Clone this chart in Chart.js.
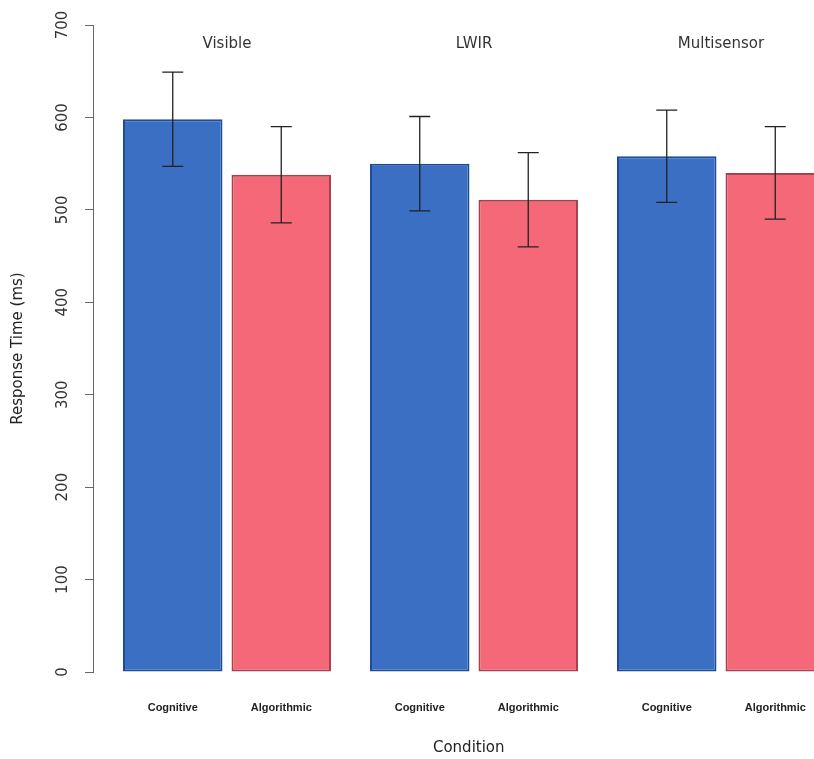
<!DOCTYPE html>
<html lang="en">
<head>
    <meta charset="UTF-8">
    <title>Response Time by Condition</title>
    <script src="https://cdn.jsdelivr.net/npm/chart.js"></script>
    <style>
        html, body {
            margin: 0;
            padding: 0;
            background: #fff;
            overflow: hidden;
        }
        #wrap {
            width: 860px;
            height: 759px;
        }
    </style>
</head>
<body>
    <div id="wrap"><canvas id="rtChart"></canvas></div>

    <script>
        // values (ms)
        const groups = ['Visible', 'LWIR', 'Multisensor'];
        const methods = ['Cognitive', 'Algorithmic'];
        const cognitiveMeans = [598, 550, 558];
        const cognitiveErr = [51, 51, 50];
        const algorithmicMeans = [538, 511, 540];
        const algorithmicErr = [52, 51, 50];
        const yTicks = [0, 100, 200, 300, 400, 500, 600, 700];

        const means = [cognitiveMeans, algorithmicMeans];
        const errors = [cognitiveErr, algorithmicErr];
        const FONT = '"DejaVu Sans", Verdana, sans-serif';

        // group titles, method labels under each bar, and the error bars
        const extras = {
            id: 'extras',
            afterDatasetsDraw(chart) {
                const c = chart.ctx;
                const x = chart.scales.x;
                const y = chart.scales.y;
                c.save();

                chart.data.datasets.forEach((ds, di) => {
                    const meta = chart.getDatasetMeta(di);
                    meta.data.forEach((bar, i) => {
                        const v = means[di][i];
                        const e = errors[di][i];
                        const top = y.getPixelForValue(v + e);
                        const bot = y.getPixelForValue(v - e);
                        c.strokeStyle = '#222';
                        c.lineWidth = 1.3;
                        c.beginPath();
                        c.moveTo(bar.x, top);
                        c.lineTo(bar.x, bot);
                        c.moveTo(bar.x - 10.5, top);
                        c.lineTo(bar.x + 10.5, top);
                        c.moveTo(bar.x - 10.5, bot);
                        c.lineTo(bar.x + 10.5, bot);
                        c.stroke();

                        c.fillStyle = '#222';
                        c.font = 'bold 11px "Liberation Sans", Arial, sans-serif';
                        c.textAlign = 'center';
                        c.textBaseline = 'middle';
                        c.fillText(methods[di], bar.x, 708);
                    });
                });

                c.fillStyle = '#333';
                c.font = '15px ' + FONT;
                c.textAlign = 'center';
                c.textBaseline = 'middle';
                groups.forEach((g, i) => {
                    c.fillText(g, x.getPixelForValue(i), 44);
                });
                c.restore();
            }
        };

        const ctx = document.getElementById('rtChart').getContext('2d');
        new Chart(ctx, {
            type: 'bar',
            data: {
                datasets: [{
                    label: methods[0],
                    data: cognitiveMeans.map((v, i) => ({ x: i, y: v })),
                    backgroundColor: '#3a6fc4',
                    borderColor: '#1f4c96',
                    borderWidth: 2,
                    borderSkipped: false,
                    categoryPercentage: 0.8785,
                    barPercentage: 0.917
                }, {
                    label: methods[1],
                    data: algorithmicMeans.map((v, i) => ({ x: i, y: v })),
                    backgroundColor: '#f46877',
                    borderColor: '#a84050',
                    borderWidth: 2,
                    borderSkipped: false,
                    categoryPercentage: 0.8785,
                    barPercentage: 0.917
                }]
            },
            options: {
                responsive: true,
                maintainAspectRatio: false,
                animation: false,
                layout: {
                    padding: { top: 25, right: 15.5, bottom: 0, left: 0 }
                },
                plugins: {
                    legend: { display: false },
                    tooltip: { enabled: false }
                },
                scales: {
                    x: {
                        type: 'linear',
                        offset: false,
                        min: -0.5425,
                        max: 2.5,
                        afterBuildTicks(scale) {
                            scale.ticks = groups.map((g, i) => ({ value: i }));
                        },
                        grid: { display: false },
                        border: { display: false },
                        ticks: { display: false },
                        title: {
                            display: true,
                            text: 'Condition',
                            color: '#222',
                            font: { family: FONT, size: 15 },
                            padding: { top: 0, bottom: 2 }
                        },
                        afterFit(scale) { scale.height = 87; }
                    },
                    y: {
                        min: 0,
                        max: 700,
                        afterBuildTicks(scale) {
                            scale.ticks = yTicks.map(v => ({ value: v }));
                        },
                        grid: {
                            drawOnChartArea: false,
                            drawTicks: true,
                            tickLength: 8,
                            color: '#666'
                        },
                        border: { color: '#666', width: 1 },
                        ticks: {
                            minRotation: 90,
                            maxRotation: 90,
                            crossAlign: 'center',
                            padding: 8,
                            color: '#333',
                            font: { family: FONT, size: 15 }
                        },
                        title: {
                            display: true,
                            text: 'Response Time (ms)',
                            color: '#222',
                            font: { family: FONT, size: 15 },
                            padding: { top: 9, bottom: 0 }
                        },
                        afterFit(scale) { scale.width = 93; }
                    }
                }
            },
            plugins: [extras]
        });
    </script>
</body>
</html>
